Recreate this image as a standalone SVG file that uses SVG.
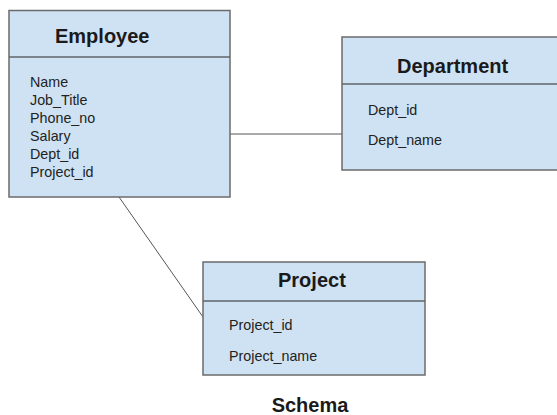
<svg xmlns="http://www.w3.org/2000/svg" width="557" height="415" viewBox="0 0 557 415">
<style>
.box{fill:#cfe2f3;stroke:#6b6b6b;stroke-width:1.5}
.div{stroke:#5f6368;stroke-width:1.5}
.title{font-family:"Liberation Sans",Arial,sans-serif;font-weight:bold;font-size:20px;fill:#1a1a1a}
.attr{font-family:"Liberation Sans",Arial,sans-serif;font-size:14.3px;fill:#222}
.conn{stroke:#555;stroke-width:1;fill:none}
</style>
<rect width="557" height="415" fill="#ffffff"/>
<g id="connectors">
<line class="conn" x1="230" y1="134" x2="342" y2="134"/>
<line class="conn" x1="119" y1="197" x2="203" y2="317"/>
</g>
<g id="employee">
<rect class="box" x="9" y="10.5" width="221" height="186.5"/>
<line class="div" x1="9" y1="57" x2="230" y2="57"/>
<text class="title" x="55" y="43">Employee</text>
<text class="attr" x="30" y="87">Name</text>
<text class="attr" x="30" y="105">Job_Title</text>
<text class="attr" x="30" y="123">Phone_no</text>
<text class="attr" x="30" y="141">Salary</text>
<text class="attr" x="30" y="159">Dept_id</text>
<text class="attr" x="30" y="177">Project_id</text>
</g>
<g id="department">
<rect class="box" x="342" y="37" width="225" height="133"/>
<line class="div" x1="342" y1="84" x2="557" y2="84"/>
<text class="title" x="397" y="73">Department</text>
<text class="attr" x="368" y="115">Dept_id</text>
<text class="attr" x="368" y="145">Dept_name</text>
</g>
<g id="project">
<rect class="box" x="203" y="262" width="222" height="113"/>
<line class="div" x1="203" y1="301" x2="425" y2="301"/>
<text class="title" x="278" y="287">Project</text>
<text class="attr" x="229" y="330">Project_id</text>
<text class="attr" x="229" y="361">Project_name</text>
</g>
<text class="title" x="310" y="412" text-anchor="middle">Schema</text>
</svg>
